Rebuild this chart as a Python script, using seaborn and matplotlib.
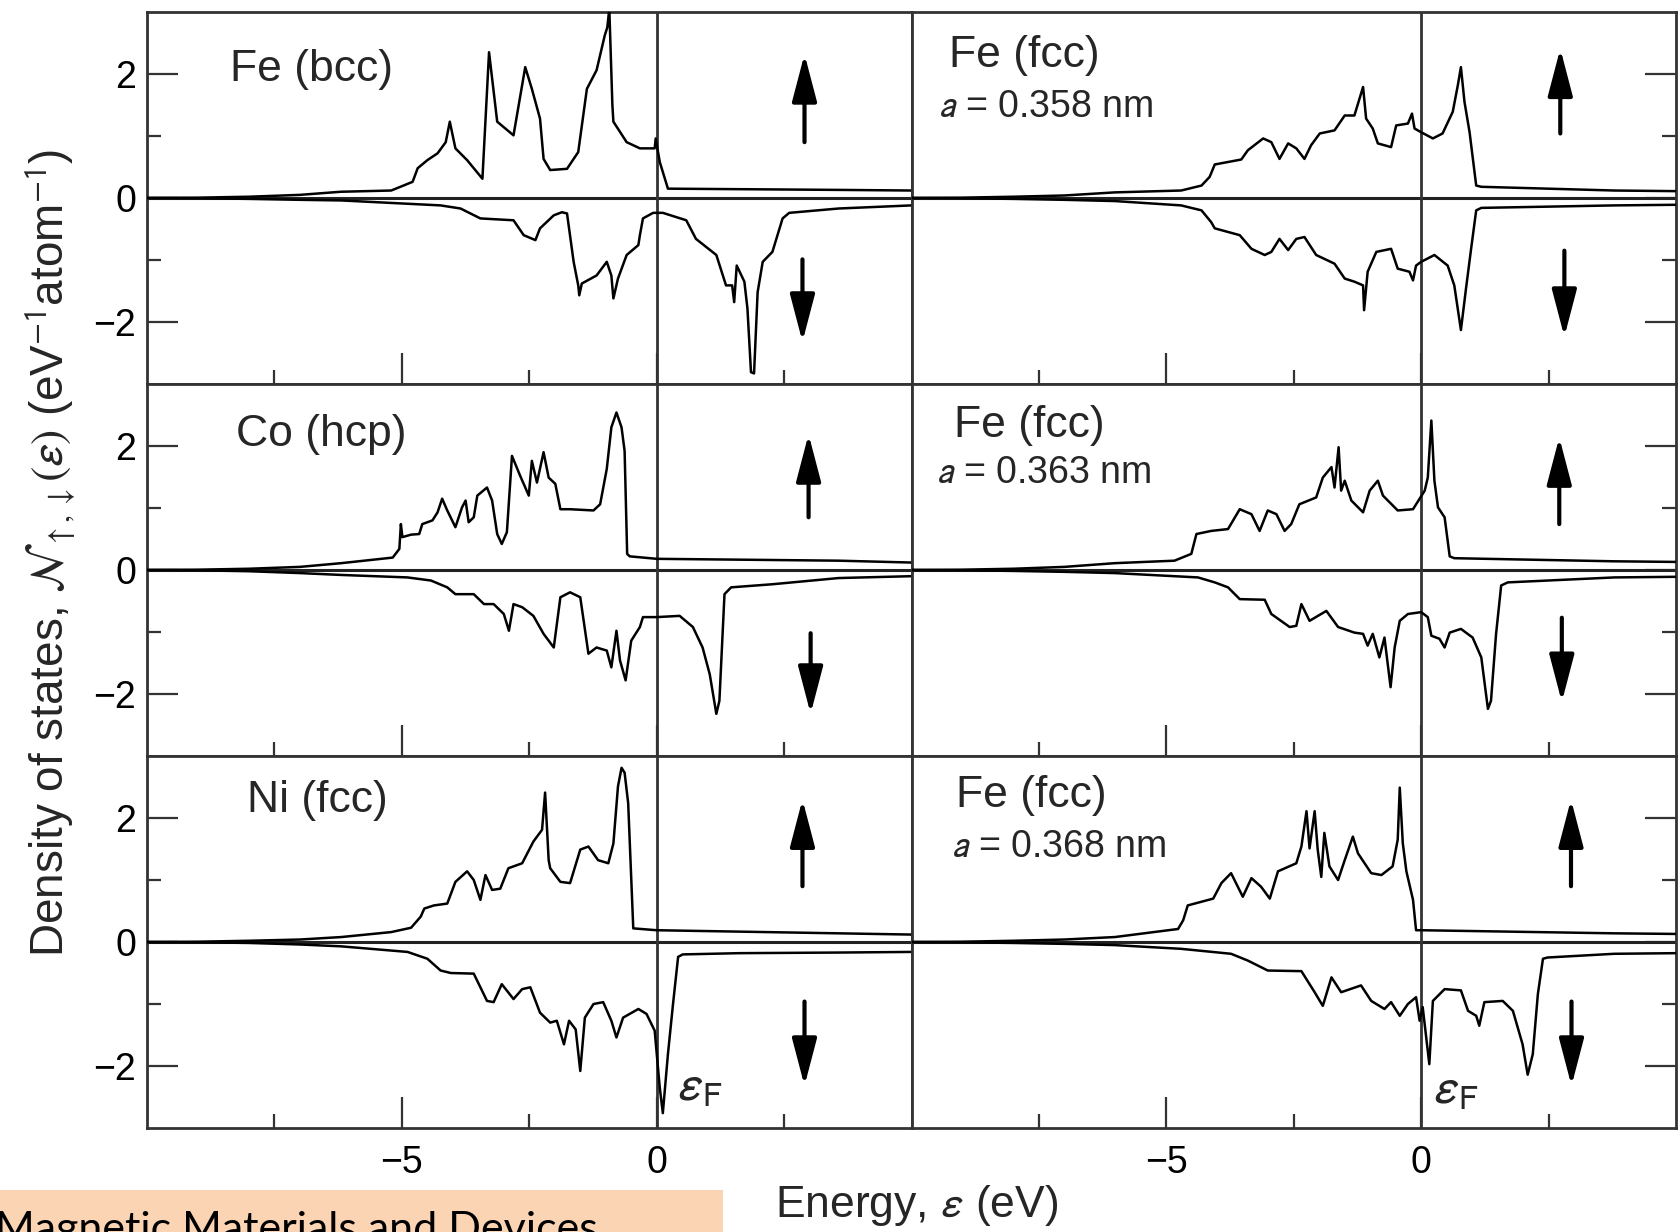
import numpy as np
import pandas as pd
import matplotlib
matplotlib.use("Agg")
import matplotlib.pyplot as plt
from matplotlib.patches import Rectangle
from matplotlib.ticker import FixedLocator
import seaborn as sns

# ---------------- data ----------------
# Energies in eV, densities of states in eV^-1 atom^-1 (spin-down stored as magnitudes)
fe_bcc_up_e = [-10, -9, -8, -7, -6.2, -5.21, -4.79, -4.69, -4.50, -4.30, -4.14, -4.06, -3.95, -3.72, -3.42,
               -3.29, -3.13, -2.81, -2.58, -2.45, -2.29, -2.22, -2.09, -1.76, -1.54, -1.37, -1.18, -1.02,
               -0.97, -0.93, -0.87, -0.85, -0.59, -0.33, -0.04, -0.02, 0.06, 0.22, 3.57, 5.0]
fe_bcc_up_dos = [0.0, 0.005, 0.02, 0.05, 0.10, 0.12, 0.26, 0.48, 0.61, 0.72, 0.90, 1.23, 0.80, 0.61, 0.31,
                 2.35, 1.23, 1.01, 2.11, 1.76, 1.28, 0.63, 0.45, 0.47, 0.74, 1.76, 2.06, 2.62,
                 2.75, 3.05, 1.50, 1.23, 0.90, 0.80, 0.80, 0.96, 0.58, 0.15, 0.13, 0.12]
fe_bcc_dn_e = [-10, -9, -8, -7, -6.19, -4.24, -3.85, -3.46, -2.81, -2.61, -2.38, -2.29, -2.02, -1.86, -1.76,
               -1.63, -1.54, -1.52, -1.47, -1.18, -0.98, -0.89, -0.85, -0.76, -0.59, -0.36, -0.33, -0.27,
               -0.07, 0.12, 0.58, 0.77, 1.17, 1.36, 1.48, 1.52, 1.57, 1.72, 1.78, 1.85, 1.91, 1.98, 2.08,
               2.27, 2.47, 2.60, 3.57, 5.0]
fe_bcc_dn_dos = [0.0, 0.005, 0.015, 0.03, 0.04, 0.12, 0.17, 0.33, 0.36, 0.60, 0.68, 0.49, 0.28, 0.23, 0.25,
                 1.03, 1.41, 1.57, 1.38, 1.25, 1.03, 1.25, 1.62, 1.30, 0.92, 0.76, 0.60, 0.33,
                 0.24, 0.24, 0.36, 0.66, 0.92, 1.41, 1.41, 1.68, 1.09, 1.35, 1.78, 2.81, 2.83, 1.52, 1.03,
                 0.87, 0.33, 0.24, 0.17, 0.12]

co_hcp_up_e = [-10, -9, -8, -7, -6.19, -5.18, -5.05, -5.02, -4.99, -4.82, -4.66, -4.60, -4.40, -4.30, -4.21,
               -4.11, -3.95, -3.82, -3.75, -3.69, -3.59, -3.52, -3.33, -3.23, -3.13, -3.04, -2.94, -2.84,
               -2.68, -2.51, -2.45, -2.35, -2.22, -2.12, -1.99, -1.89, -1.70, -1.24, -1.11, -0.98, -0.89,
               -0.79, -0.69, -0.63, -0.58, -0.53, 0.0, 3.57, 5.0]
co_hcp_up_dos = [0.0, 0.005, 0.02, 0.05, 0.11, 0.20, 0.34, 0.74, 0.53, 0.57, 0.58, 0.74, 0.80, 0.93, 1.15,
                 0.96, 0.69, 1.01, 1.12, 0.77, 0.85, 1.20, 1.33, 1.12, 0.58, 0.42, 0.61, 1.84,
                 1.52, 1.20, 1.76, 1.41, 1.90, 1.49, 1.39, 0.98, 0.98, 0.96, 1.06, 1.63, 2.30,
                 2.54, 2.30, 1.92, 0.26, 0.22, 0.18, 0.15, 0.12]
co_hcp_dn_e = [-10, -9, -8, -7, -6.19, -4.89, -4.43, -4.11, -3.95, -3.59, -3.39, -3.20, -3.00, -2.90, -2.81,
               -2.64, -2.42, -2.22, -2.02, -1.89, -1.70, -1.50, -1.34, -1.18, -0.98, -0.89, -0.79, -0.72,
               -0.61, -0.50, -0.33, -0.27, 0.0, 0.45, 0.71, 0.90, 1.04, 1.17, 1.23, 1.33, 1.46, 2.27, 3.57, 5.0]
co_hcp_dn_dos = [0.0, 0.005, 0.02, 0.05, 0.08, 0.12, 0.17, 0.28, 0.39, 0.39, 0.55, 0.55, 0.71, 0.98, 0.55,
                 0.60, 0.74, 1.03, 1.25, 0.44, 0.36, 0.44, 1.35, 1.25, 1.30, 1.57, 0.98, 1.46,
                 1.78, 1.14, 0.92, 0.76, 0.76, 0.74, 0.92, 1.25, 1.68, 2.32, 2.11, 0.39, 0.28, 0.23, 0.13, 0.10]

ni_fcc_up_e = [-10, -9, -8, -7, -6.19, -5.21, -4.82, -4.63, -4.56, -4.37, -4.11, -3.95, -3.72, -3.59, -3.46,
               -3.36, -3.23, -3.07, -2.91, -2.64, -2.42, -2.25, -2.19, -2.12, -2.09, -1.89, -1.70, -1.60,
               -1.50, -1.34, -1.15, -0.95, -0.85, -0.76, -0.69, -0.63, -0.56, -0.46, 0.0, 3.57, 5.0]
ni_fcc_up_dos = [0.0, 0.005, 0.02, 0.04, 0.08, 0.16, 0.23, 0.41, 0.54, 0.59, 0.62, 0.97, 1.14, 1.00, 0.68,
                 1.08, 0.84, 0.86, 1.19, 1.27, 1.62, 1.81, 2.41, 1.32, 1.19, 0.97, 0.95, 1.22,
                 1.49, 1.54, 1.32, 1.27, 1.59, 2.51, 2.81, 2.73, 2.24, 0.22, 0.19, 0.14, 0.12]
ni_fcc_dn_e = [-10, -9, -8, -7, -6.19, -4.89, -4.50, -4.24, -4.04, -3.59, -3.46, -3.33, -3.20, -3.04, -2.81,
               -2.64, -2.48, -2.29, -2.09, -1.96, -1.82, -1.72, -1.59, -1.50, -1.41, -1.24, -1.05, -0.89,
               -0.79, -0.66, -0.36, -0.20, -0.04, 0.06, 0.12, 0.22, 0.32, 0.42, 0.51, 1.62, 3.57, 5.0]
ni_fcc_dn_dos = [0.0, 0.005, 0.015, 0.04, 0.07, 0.16, 0.27, 0.46, 0.50, 0.51, 0.73, 0.95, 0.97, 0.68, 0.92,
                 0.76, 0.73, 1.14, 1.30, 1.27, 1.65, 1.27, 1.41, 2.08, 1.22, 1.00, 0.97, 1.27,
                 1.54, 1.22, 1.08, 1.16, 1.43, 2.35, 2.76, 1.81, 1.00, 0.24, 0.20, 0.18, 0.17, 0.16]

fe358_up_e = [-10, -9, -8, -7, -6.01, -4.71, -4.31, -4.15, -4.05, -3.79, -3.53, -3.40, -3.10, -2.94, -2.78,
              -2.61, -2.45, -2.29, -2.16, -1.99, -1.70, -1.50, -1.31, -1.14, -1.08, -0.95, -0.85, -0.59,
              -0.49, -0.26, -0.18, -0.13, 0.0, 0.23, 0.42, 0.62, 0.72, 0.78, 0.85, 0.95, 1.08, 1.18, 3.79, 5.0]
fe358_up_dos = [0.0, 0.005, 0.02, 0.04, 0.09, 0.12, 0.20, 0.34, 0.54, 0.58, 0.62, 0.77, 0.96, 0.90, 0.63,
                0.88, 0.80, 0.63, 0.85, 1.04, 1.09, 1.33, 1.33, 1.79, 1.28, 1.12, 0.88, 0.82,
                1.17, 1.20, 1.36, 1.12, 1.06, 0.96, 1.04, 1.39, 1.82, 2.11, 1.55, 1.06, 0.20, 0.18, 0.12, 0.11]
fe358_dn_e = [-10, -9, -8, -7, -6.01, -4.71, -4.31, -4.12, -4.05, -3.56, -3.33, -3.07, -2.94, -2.78, -2.61,
              -2.45, -2.29, -2.06, -1.70, -1.50, -1.31, -1.14, -1.12, -1.05, -0.88, -0.59, -0.46, -0.23,
              -0.16, -0.10, 0.0, 0.26, 0.52, 0.65, 0.78, 0.88, 0.98, 1.08, 1.18, 3.79, 5.0]
fe358_dn_dos = [0.0, 0.005, 0.015, 0.03, 0.05, 0.12, 0.20, 0.39, 0.49, 0.60, 0.82, 0.92, 0.87, 0.66, 0.84,
                0.66, 0.63, 0.92, 1.06, 1.30, 1.35, 1.41, 1.81, 1.19, 0.87, 0.82, 1.14, 1.19,
                1.33, 1.09, 1.03, 0.92, 1.09, 1.41, 2.13, 1.46, 0.82, 0.20, 0.16, 0.12, 0.11]

fe363_up_e = [-10, -9, -8, -7, -6.01, -4.84, -4.51, -4.41, -4.12, -3.79, -3.56, -3.33, -3.17, -3.01, -2.84,
              -2.68, -2.55, -2.39, -2.06, -1.93, -1.76, -1.70, -1.62, -1.57, -1.50, -1.37, -1.14, -1.01,
              -0.85, -0.75, -0.46, -0.16, 0.07, 0.13, 0.20, 0.26, 0.33, 0.46, 0.56, 0.65, 3.79, 5.0]
fe363_up_dos = [0.0, 0.005, 0.02, 0.05, 0.11, 0.15, 0.26, 0.58, 0.63, 0.66, 0.98, 0.90, 0.63, 0.96, 0.90,
                0.63, 0.74, 1.06, 1.17, 1.49, 1.66, 1.33, 1.98, 1.28, 1.44, 1.12, 0.93, 1.28,
                1.44, 1.20, 0.96, 0.98, 1.28, 1.49, 2.41, 1.44, 1.01, 0.85, 0.22, 0.19, 0.14, 0.13]
fe363_dn_e = [-10, -9, -8, -7, -6.01, -4.38, -4.05, -3.79, -3.56, -3.07, -2.94, -2.58, -2.45, -2.35, -2.19,
              -1.86, -1.63, -1.31, -1.14, -1.05, -0.95, -0.82, -0.72, -0.60, -0.52, -0.42, -0.26, 0.0,
              0.13, 0.20, 0.36, 0.46, 0.56, 0.78, 1.01, 1.18, 1.31, 1.37, 1.47, 1.57, 1.70, 3.79, 5.0]
fe363_dn_dos = [0.0, 0.005, 0.015, 0.03, 0.05, 0.12, 0.20, 0.28, 0.47, 0.48, 0.71, 0.92, 0.90, 0.55, 0.82,
                0.66, 0.92, 1.01, 1.03, 1.22, 1.03, 1.41, 1.09, 1.89, 1.25, 0.82, 0.71, 0.68,
                0.76, 1.06, 1.11, 1.25, 1.01, 0.95, 1.09, 1.41, 2.24, 2.11, 1.03, 0.25, 0.20, 0.12, 0.11]

fe368_up_e = [-10, -9, -8, -7, -6.01, -4.77, -4.67, -4.58, -4.08, -3.92, -3.73, -3.50, -3.33, -3.14, -2.97,
              -2.81, -2.45, -2.35, -2.25, -2.19, -2.09, -2.03, -1.96, -1.90, -1.80, -1.63, -1.50, -1.34,
              -1.24, -0.98, -0.78, -0.56, -0.46, -0.42, -0.36, -0.29, -0.16, -0.10, 0.0, 3.79, 5.0]
fe368_up_dos = [0.0, 0.005, 0.02, 0.04, 0.08, 0.21, 0.35, 0.59, 0.70, 0.95, 1.11, 0.73, 1.03, 0.89, 0.70,
                1.14, 1.27, 1.54, 2.11, 1.51, 2.11, 1.49, 1.05, 1.76, 1.22, 1.00, 1.32, 1.70,
                1.43, 1.11, 1.08, 1.22, 1.65, 2.49, 1.59, 1.14, 0.68, 0.19, 0.19, 0.14, 0.13]
fe368_dn_e = [-10, -9, -8, -7, -6.01, -4.71, -3.73, -3.40, -3.01, -2.35, -2.09, -1.93, -1.76, -1.57, -1.18,
              -0.98, -0.72, -0.59, -0.42, -0.26, -0.10, -0.03, 0.03, 0.16, 0.23, 0.46, 0.78, 0.92, 1.08,
              1.14, 1.24, 1.60, 1.80, 1.99, 2.09, 2.19, 2.29, 2.39, 2.48, 3.79, 5.0]
fe368_dn_dos = [0.0, 0.005, 0.015, 0.03, 0.05, 0.11, 0.19, 0.30, 0.46, 0.47, 0.81, 1.03, 0.57, 0.81, 0.70,
                0.95, 1.08, 0.97, 1.19, 1.00, 0.89, 1.27, 1.05, 1.97, 0.95, 0.76, 0.78, 1.11, 1.19,
                1.35, 0.97, 0.95, 1.11, 1.65, 2.14, 1.81, 0.84, 0.27, 0.25, 0.19, 0.18]

panel_names = ["Fe (bcc)", "Fe (fcc)", "Co (hcp)", "Fe (fcc)", "Ni (fcc)", "Fe (fcc)"]
lattice_labels = ["", "$a$ = 0.358 nm", "", "$a$ = 0.363 nm", "", "$a$ = 0.368 nm"]
x_tick_labels = ["\u22125", "0"]
y_tick_labels = ["\u22122", "0", "2"]

# --------------------------- style ---------------------------
sns.set_theme(style="white")
plt.rcParams["font.family"] = ["Liberation Sans", "DejaVu Sans"]
plt.rcParams["mathtext.fontset"] = "stixsans"
plt.rcParams["axes.linewidth"] = 2.0
plt.rcParams["axes.edgecolor"] = "#333333"

fig = plt.figure(figsize=(16.79, 12.32), dpi=100)
axes = fig.subplots(3, 2)
fig.subplots_adjust(left=0.0876, right=0.9982, bottom=0.0844, top=0.9903, wspace=0, hspace=0)

curves = [
    (fe_bcc_up_e, fe_bcc_up_dos, fe_bcc_dn_e, fe_bcc_dn_dos),
    (fe358_up_e, fe358_up_dos, fe358_dn_e, fe358_dn_dos),
    (co_hcp_up_e, co_hcp_up_dos, co_hcp_dn_e, co_hcp_dn_dos),
    (fe363_up_e, fe363_up_dos, fe363_dn_e, fe363_dn_dos),
    (ni_fcc_up_e, ni_fcc_up_dos, ni_fcc_dn_e, ni_fcc_dn_dos),
    (fe368_up_e, fe368_up_dos, fe368_dn_e, fe368_dn_dos),
]
name_pos = [(-8.38, 2.07), (-9.27, 2.30), (-8.25, 2.18), (-9.17, 2.33), (-8.04, 2.28), (-9.13, 2.36)]
lat_pos = [None, (-9.48, 1.47), None, (-9.52, 1.56), None, (-9.23, 1.54)]
arrow_up = [(2.90, 0.90, 2.32), (2.73, 1.04, 2.41), (2.98, 0.85, 2.19),
            (2.71, 0.74, 2.14), (2.86, 0.90, 2.30), (2.94, 0.90, 2.30)]
arrow_dn = [(2.86, -0.99, -2.32), (2.81, -0.85, -2.24), (3.02, -1.02, -2.32),
            (2.76, -0.77, -2.13), (2.90, -0.96, -2.32), (2.95, -0.96, -2.32)]

for i, ax in enumerate(axes.flat):
    row, col = divmod(i, 2)
    ue, ud, de, dd = curves[i]
    df_up = pd.DataFrame({"E": ue, "N": ud})
    df_dn = pd.DataFrame({"E": de, "N": -np.asarray(dd)})
    ax.axhline(0, color="#222222", lw=2.2, zorder=1)
    ax.axvline(0, color="#333333", lw=2.0, zorder=1)
    sns.lineplot(data=df_up, x="E", y="N", ax=ax, color="black", linewidth=1.8,
                 sort=False, estimator=None, zorder=3)
    sns.lineplot(data=df_dn, x="E", y="N", ax=ax, color="black", linewidth=1.8,
                 sort=False, estimator=None, zorder=3)
    ax.set_xlim(-10, 5)
    ax.set_ylim(-3, 3)
    ax.set_xlabel("")
    ax.set_ylabel("")

    ax.xaxis.set_major_locator(FixedLocator([-5, 0]))
    ax.xaxis.set_minor_locator(FixedLocator([-7.5, -2.5, 2.5]))
    ax.yaxis.set_major_locator(FixedLocator([-2, 0, 2]))
    ax.yaxis.set_minor_locator(FixedLocator([-1, 1]))
    ax.tick_params(axis="both", which="both", direction="in", color="#333333", width=1.6,
                   labelsize=27, labelcolor="black")
    ax.tick_params(axis="both", which="major", length=22)
    ax.tick_params(axis="both", which="minor", length=10)
    ax.tick_params(axis="x", which="both", bottom=True, top=False, pad=12,
                   labelbottom=(row == 2))
    if row == 2:
        ax.set_xticklabels(x_tick_labels)
    if col == 0:
        ax.tick_params(axis="y", which="both", left=True, right=False, labelleft=True, pad=8)
        ax.set_yticklabels(y_tick_labels)
    else:
        ax.tick_params(axis="y", which="both", left=False, right=True, labelleft=False)
    for sp in ax.spines.values():
        sp.set_visible(True)
        sp.set_linewidth(2.0)
        sp.set_color("#333333")

    ax.text(name_pos[i][0], name_pos[i][1], panel_names[i], fontsize=32, va="center", ha="left")
    if lat_pos[i] is not None:
        ax.text(lat_pos[i][0], lat_pos[i][1], lattice_labels[i], fontsize=27, va="center", ha="left")

    hp = dict(arrowstyle="-|>,head_length=1.45,head_width=0.38", lw=3.0, color="black",
              shrinkA=0, shrinkB=0, mutation_scale=20)
    xa, y0, y1 = arrow_up[i]
    ax.annotate("", xy=(xa, y1), xytext=(xa, y0), arrowprops=hp)
    xa, y0, y1 = arrow_dn[i]
    ax.annotate("", xy=(xa, y1), xytext=(xa, y0), arrowprops=hp)

# Fermi level labels
axes[2, 0].text(0.40, -2.55, r"$\varepsilon_{\mathrm{F}}$", fontsize=36, ha="left", va="baseline")
axes[2, 1].text(0.24, -2.60, r"$\varepsilon_{\mathrm{F}}$", fontsize=36, ha="left", va="baseline")

fig.text(0.546, 1 - 1205 / 1232, r"Energy, $\varepsilon$ (eV)", fontsize=32, ha="center", va="center")
fig.text(0.0304, 0.551,
         r"Density of states, $\mathcal{N}_{\uparrow,\downarrow}(\varepsilon)$ (eV$^{-1}$atom$^{-1}$)",
         fontsize=33, rotation=90, ha="center", va="center")

# bottom-left banner (cut by the lower edge, as in the reference)
fig.patches.append(Rectangle((0, 0), 723 / 1679, 42 / 1232, transform=fig.transFigure,
                             facecolor="#FBD4B4", edgecolor="none", zorder=0))
fig.text(-5 / 1679, 1 - 1242 / 1232, "Magnetic Materials and Devices", fontsize=31,
         family=["Lato", "DejaVu Sans"], ha="left", va="baseline", color="black")

fig.savefig("out.png", dpi=100)
